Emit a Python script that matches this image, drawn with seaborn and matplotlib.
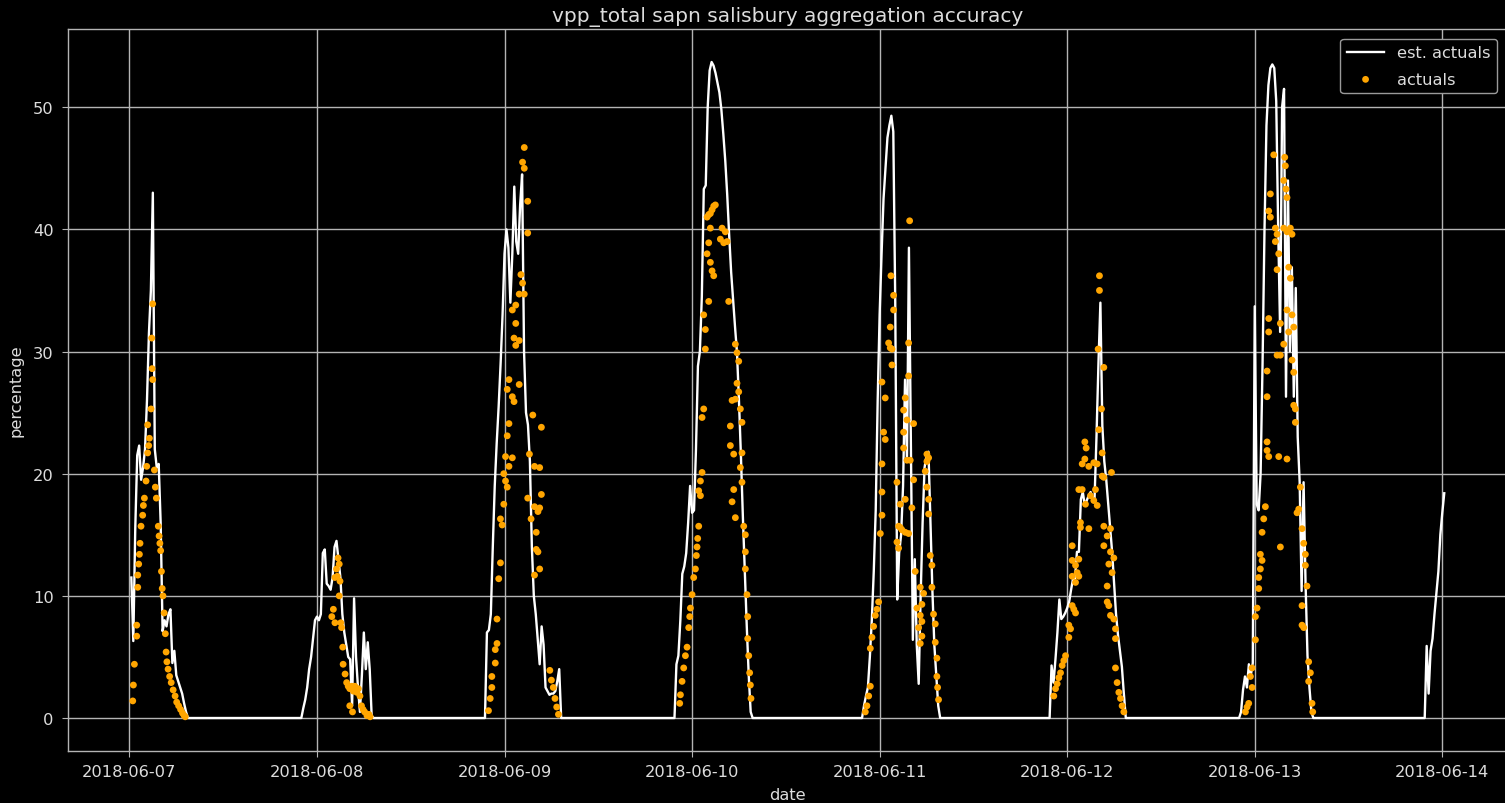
import numpy as np
import pandas as pd
import matplotlib
matplotlib.use("Agg")
import matplotlib.pyplot as plt
import matplotlib.dates as mdates
import seaborn as sns

# ---------------------------------------------------------------------------
# est. actuals: one value every 15 minutes, each day's list starting at the
# given hour offset from that day's midnight
# ---------------------------------------------------------------------------
STEP_H = 0.25

est_0607_start = 0.25
est_0607 = [11.5, 6.3, 15.5, 21.5, 22.3, 19.5, 20.5, 22.0, 26.0, 31.5, 35.0, 43.0,
            22.0, 20.5, 20.8, 16.0, 7.1, 8.0, 7.5, 8.5, 8.9, 4.5, 5.5, 3.5, 3.0,
            2.5, 2.0, 1.2, 0.5, 0.0]

est_0608_start = -2.0
est_0608 = [0.0, 0.8, 1.5, 2.5, 4.0, 5.0, 6.5, 8.0, 8.3, 8.0, 8.5, 13.5, 13.8, 11.0,
            10.8, 10.5, 11.5, 14.0, 14.5, 13.0, 11.5, 8.5, 7.0, 6.0, 5.0, 4.8, 1.0,
            9.8, 5.0, 2.5, 0.5, 3.5, 7.0, 4.0, 6.2, 4.0, 0.2, 0.0]

est_0609_start = -2.5
est_0609 = [0.0, 7.0, 7.2, 8.5, 14.0, 19.0, 22.5, 25.5, 29.0, 33.0, 38.0, 40.0, 38.5,
            34.0, 38.0, 43.5, 39.0, 38.0, 42.0, 44.5, 30.0, 25.0, 24.0, 21.0, 14.0,
            10.0, 8.5, 6.5, 4.4, 7.5, 6.0, 2.5, 2.2, 1.9, 2.0, 2.0, 2.2, 3.0, 4.0, 0.0]

est_0610_start = -2.25
est_0610 = [0.0, 4.4, 5.1, 8.0, 11.8, 12.4, 13.5, 16.0, 19.0, 16.8, 17.0, 22.0, 28.8,
            30.0, 34.5, 43.3, 43.6, 50.0, 53.0, 53.7, 53.4, 52.8, 52.0, 51.2, 49.8,
            47.8, 45.6, 42.8, 39.5, 36.5, 34.2, 32.0, 29.9, 26.0, 21.5, 16.5, 12.0,
            7.5, 3.5, 0.5, 0.0]

est_0611_start = -2.25
est_0611 = [0.0, 1.0, 1.8, 2.5, 5.0, 8.0, 12.0, 17.0, 26.0, 33.0, 38.0, 42.5, 45.0,
            47.5, 48.5, 49.3, 48.0, 34.0, 9.7, 13.5, 15.0, 19.0, 27.7, 21.0, 38.5,
            22.0, 6.4, 13.0, 6.0, 2.8, 10.0, 16.0, 20.5, 21.5, 21.8, 16.0, 10.5, 6.0,
            3.5, 1.0, 0.0]

est_0612_start = -2.25
est_0612 = [0.0, 4.3, 2.9, 4.8, 7.0, 9.7, 8.1, 8.3, 8.6, 9.0, 9.5, 10.5, 11.4, 11.4,
            13.6, 13.6, 17.9, 18.5, 17.4, 17.8, 18.2, 18.5, 18.0, 17.9, 23.0, 29.0,
            34.0, 23.9, 21.0, 19.5, 17.5, 15.5, 13.6, 11.0, 8.5, 6.8, 5.5, 4.2, 2.0,
            0.0]

est_0613_start = -2.0
est_0613 = [0.0, 0.5, 2.3, 3.4, 2.5, 4.4, 3.5, 4.5, 33.7, 17.5, 17.0, 20.0, 29.0, 40.0,
            48.5, 51.8, 53.2, 53.5, 53.2, 50.5, 40.0, 31.6, 50.0, 51.5, 26.3, 44.0,
            30.0, 36.9, 26.3, 35.2, 23.0, 19.3, 10.4, 19.3, 11.1, 5.1, 2.5, 0.5, 0.0]

est_0614_start = -2.5
est_0614 = [0.0, 0.0, 5.9, 2.0, 5.5, 6.5, 8.5, 10.3, 12.0, 15.0, 16.8, 18.4]

# ---------------------------------------------------------------------------
# actuals: (hour offset from the day's midnight, percentage)
# ---------------------------------------------------------------------------
act_0607 = [(0.43, 1.4), (0.51, 2.7), (0.64, 4.4), (0.94, 6.7), (0.94, 7.6), (1.07, 10.7),
            (1.07, 11.7), (1.19, 12.6), (1.28, 13.4), (1.36, 14.3), (1.49, 15.7),
            (1.7, 16.6), (1.79, 17.4), (1.92, 18.0), (2.13, 19.4), (2.22, 20.6),
            (2.34, 21.7), (2.34, 24.0), (2.47, 22.3), (2.56, 22.9), (2.77, 25.3),
            (2.86, 31.1), (2.9, 28.6), (2.98, 27.7), (2.98, 33.9), (3.2, 20.3),
            (3.32, 18.9), (3.45, 18.0), (3.7, 15.7), (3.8, 14.9), (3.9, 14.3),
            (4.0, 13.7), (4.1, 12.0), (4.2, 10.6), (4.3, 10.0), (4.45, 8.6),
            (4.6, 6.9), (4.7, 5.4), (4.8, 4.6), (4.95, 4.0), (5.15, 3.4), (5.35, 2.9),
            (5.6, 2.3), (5.85, 1.8), (6.05, 1.3), (6.3, 1.0), (6.55, 0.7), (6.8, 0.4),
            (7.0, 0.2), (7.15, 0.1)]

act_0608 = [(1.9, 8.3), (2.1, 8.9), (2.3, 7.8), (2.3, 11.5), (2.5, 12.2), (2.6, 11.6),
            (2.7, 13.1), (2.85, 12.6), (2.85, 10.0), (2.95, 11.2), (3.05, 7.8),
            (3.15, 7.4), (3.3, 5.8), (3.35, 4.4), (3.6, 3.6), (3.8, 2.9), (4.0, 2.6),
            (4.2, 2.4), (4.2, 1.0), (4.45, 2.6), (4.55, 0.5), (4.65, 2.2), (4.85, 2.6),
            (5.1, 2.1), (5.3, 2.4), (5.5, 1.8), (5.7, 1.0), (5.9, 0.7), (6.1, 0.5),
            (6.4, 0.2), (6.65, 0.3), (6.8, 0.1)]

act_0609 = [(-2.05, 0.6), (-1.83, 1.6), (-1.62, 2.5), (-1.62, 3.4), (-1.18, 4.5),
            (-1.18, 5.6), (-0.96, 6.1), (-0.96, 8.1), (-0.74, 11.4), (-0.52, 12.7),
            (-0.52, 16.3), (-0.3, 15.8), (-0.09, 17.5), (-0.09, 20.0), (0.13, 19.4),
            (0.13, 21.4), (0.35, 18.9), (0.35, 23.1), (0.35, 26.9), (0.57, 20.6),
            (0.57, 24.1), (0.57, 27.7), (1.0, 21.3), (1.0, 26.3), (1.0, 33.4),
            (1.22, 25.9), (1.22, 31.1), (1.44, 30.5), (1.44, 32.3), (1.44, 33.8),
            (1.88, 27.3), (1.88, 30.9), (1.88, 34.7), (2.1, 36.3), (2.31, 35.6),
            (2.31, 45.5), (2.53, 34.7), (2.53, 45.0), (2.53, 46.7), (2.97, 39.7),
            (2.97, 42.3), (2.97, 18.0), (3.19, 21.6), (3.4, 16.3), (3.62, 24.8),
            (3.84, 20.6), (3.84, 17.3), (3.84, 11.7), (4.06, 15.2), (4.06, 13.8),
            (4.28, 16.9), (4.28, 13.6), (4.5, 20.5), (4.5, 17.2), (4.5, 12.2),
            (4.72, 23.8), (4.72, 18.3), (5.8, 3.9), (6.0, 3.1), (6.24, 2.5),
            (6.46, 1.6), (6.68, 0.9), (6.9, 0.3)]

act_0610 = [(2.98, 42.0), (2.77, 41.9), (2.34, 41.3), (2.13, 41.2), (1.92, 41.0),
            (2.56, 41.6), (3.84, 40.1), (4.26, 39.8), (4.48, 39.0), (3.62, 39.2),
            (4.05, 38.9), (2.34, 40.1), (2.13, 38.9), (1.92, 38.0), (2.34, 37.3),
            (2.77, 36.2), (2.56, 36.6), (2.13, 34.1), (4.69, 34.1), (1.49, 33.0),
            (1.7, 31.8), (1.7, 30.2), (5.54, 30.6), (5.75, 29.9), (5.97, 29.2),
            (5.75, 27.4), (5.97, 26.7), (5.54, 26.1), (5.12, 26.0), (6.18, 25.3),
            (6.39, 24.2), (1.49, 25.3), (1.28, 24.6), (4.9, 23.9), (6.39, 21.7),
            (4.9, 22.3), (5.33, 21.6), (6.18, 20.5), (6.39, 19.3), (1.28, 20.1),
            (1.07, 19.4), (0.85, 18.6), (1.07, 18.2), (5.33, 18.7), (5.12, 17.7),
            (5.54, 16.4), (0.85, 15.7), (0.72, 14.7), (0.64, 14.0), (0.55, 13.3),
            (0.43, 12.2), (0.21, 11.5), (0.0, 10.1), (-0.21, 9.0), (-0.3, 8.3),
            (-0.43, 7.4), (-0.64, 5.8), (-0.85, 5.1), (-1.07, 4.1), (-1.28, 3.0),
            (-1.49, 1.9), (-1.58, 1.2), (6.61, 15.7), (6.82, 15.0), (6.82, 13.6),
            (6.82, 12.2), (7.03, 10.1), (7.12, 8.3), (7.12, 6.5), (7.25, 5.1),
            (7.37, 3.7), (7.46, 2.7), (7.54, 1.6)]

act_0611 = [(3.84, 40.7), (1.45, 36.2), (1.79, 34.6), (1.79, 33.4), (1.36, 32.0),
            (1.15, 30.7), (1.36, 30.3), (1.58, 30.2), (3.71, 30.7), (1.58, 28.9),
            (3.71, 28.0), (0.3, 27.5), (0.72, 26.2), (3.28, 26.2), (3.07, 25.2),
            (3.5, 24.4), (4.35, 24.1), (0.51, 23.4), (0.72, 22.8), (3.07, 23.4),
            (3.07, 22.1), (3.5, 21.1), (3.92, 21.1), (0.3, 20.8), (6.05, 21.6),
            (6.27, 21.3), (5.84, 20.2), (6.05, 21.0), (2.22, 19.3), (4.35, 19.5),
            (6.05, 18.9), (0.3, 18.5), (6.27, 17.9), (2.64, 17.5), (3.28, 17.9),
            (4.13, 17.2), (0.3, 16.6), (6.27, 16.7), (2.43, 15.7), (2.64, 15.6),
            (2.86, 15.4), (3.28, 15.2), (3.71, 15.1), (0.09, 15.1), (2.22, 14.4),
            (2.43, 13.9), (6.48, 13.3), (6.69, 12.5), (4.56, 12.0), (5.2, 10.7),
            (5.63, 10.2), (5.41, 9.3), (6.69, 10.7), (-0.13, 9.5), (-0.34, 8.9),
            (-0.55, 8.4), (-0.77, 7.5), (-0.98, 6.6), (-1.19, 5.7), (4.77, 9.0),
            (5.2, 8.4), (5.41, 7.9), (4.99, 7.4), (6.9, 8.5), (7.12, 7.7), (5.41, 6.7),
            (5.2, 6.1), (7.12, 6.2), (7.33, 4.9), (-1.19, 2.6), (-1.4, 1.8),
            (-1.62, 1.0), (-1.83, 0.5), (7.33, 3.4), (7.42, 2.5), (7.54, 1.5)]

act_0612 = [(4.13, 36.2), (4.13, 35.0), (3.96, 30.2), (4.69, 28.7), (4.39, 25.3),
            (4.05, 23.6), (4.48, 21.7), (5.67, 20.1), (2.26, 22.6), (2.43, 22.1),
            (2.26, 21.2), (1.92, 20.8), (2.77, 20.6), (3.41, 20.9), (3.84, 20.8),
            (4.48, 19.8), (4.69, 19.7), (1.92, 18.7), (1.49, 18.7), (3.62, 18.7),
            (2.98, 18.2), (3.41, 17.8), (3.84, 17.4), (2.34, 17.5), (1.7, 16.0),
            (1.7, 15.6), (2.77, 15.5), (4.69, 15.7), (5.54, 15.5), (5.12, 14.9),
            (0.64, 14.1), (4.69, 14.1), (5.54, 13.6), (5.97, 13.1), (0.64, 12.9),
            (1.49, 13.0), (1.07, 12.5), (1.28, 11.9), (1.49, 11.6), (0.64, 11.6),
            (1.07, 11.1), (5.33, 12.6), (5.75, 11.9), (5.12, 10.8), (5.12, 9.5),
            (5.33, 9.2), (0.64, 9.2), (0.85, 8.9), (1.07, 8.6), (5.54, 8.4), (0.21, 7.6),
            (0.43, 7.3), (0.21, 6.6), (5.97, 8.1), (6.18, 7.3), (6.18, 6.5),
            (-0.21, 5.1), (-0.43, 4.7), (-0.64, 4.3), (-0.85, 3.7), (-1.07, 3.3),
            (-1.28, 2.8), (-1.49, 2.4), (-1.71, 1.8), (6.18, 4.1), (6.39, 2.9),
            (6.61, 2.1), (6.82, 1.6), (7.03, 1.0), (7.25, 0.5)]

act_0613 = [(2.43, 46.1), (3.84, 45.9), (3.92, 45.2), (3.71, 44.0), (2.0, 42.9),
            (4.0, 43.3), (4.13, 42.6), (1.79, 41.5), (2.0, 41.0), (2.64, 40.1),
            (2.86, 39.6), (2.64, 39.0), (3.71, 40.1), (4.13, 39.8), (4.56, 40.1),
            (4.77, 39.6), (3.07, 38.0), (2.86, 36.7), (4.35, 36.9), (4.56, 36.0),
            (4.13, 33.4), (4.77, 33.0), (4.99, 32.0), (1.79, 32.7), (1.79, 31.6),
            (3.28, 32.3), (4.35, 31.6), (3.71, 30.6), (3.28, 29.7), (2.86, 29.7),
            (4.77, 29.3), (4.99, 28.3), (1.58, 28.4), (1.58, 26.3), (4.99, 25.6),
            (5.2, 25.3), (5.2, 24.2), (1.58, 22.6), (1.58, 21.9), (1.79, 21.4),
            (3.07, 21.4), (4.13, 21.2), (5.84, 18.9), (5.63, 17.1), (5.41, 16.8),
            (1.36, 17.3), (1.15, 16.3), (0.94, 15.2), (3.28, 14.0), (6.05, 15.5),
            (6.27, 14.3), (6.48, 13.4), (6.48, 12.5), (6.69, 10.8), (6.05, 9.2),
            (0.72, 13.4), (0.94, 12.9), (0.72, 12.2), (0.51, 11.5), (0.51, 10.6),
            (0.3, 9.0), (0.09, 8.3), (0.09, 6.4), (6.05, 7.6), (6.27, 7.4), (6.9, 4.6),
            (7.12, 3.7), (6.9, 3.0), (-0.34, 4.1), (-0.55, 3.4), (-0.34, 2.5),
            (-0.77, 1.2), (-0.98, 0.9), (-1.19, 0.5), (7.33, 1.2), (7.42, 0.5)]

est_series = [
    ("2018-06-07", est_0607_start, est_0607),
    ("2018-06-08", est_0608_start, est_0608),
    ("2018-06-09", est_0609_start, est_0609),
    ("2018-06-10", est_0610_start, est_0610),
    ("2018-06-11", est_0611_start, est_0611),
    ("2018-06-12", est_0612_start, est_0612),
    ("2018-06-13", est_0613_start, est_0613),
    ("2018-06-14", est_0614_start, est_0614),
]
act_series = [
    ("2018-06-07", act_0607), ("2018-06-08", act_0608), ("2018-06-09", act_0609),
    ("2018-06-10", act_0610), ("2018-06-11", act_0611), ("2018-06-12", act_0612),
    ("2018-06-13", act_0613),
]

# ---------------------------------------------------------------------------
# tidy frames
# ---------------------------------------------------------------------------
est_frames = []
for day, start, vals in est_series:
    hours = start + STEP_H * np.arange(len(vals))
    est_frames.append(pd.DataFrame({
        "date": pd.Timestamp(day) + pd.to_timedelta(hours, unit="h"),
        "percentage": vals,
    }))
est = pd.concat(est_frames, ignore_index=True)

act_frames = []
for day, pts in act_series:
    hrs = np.array([p[0] for p in pts])
    act_frames.append(pd.DataFrame({
        "date": pd.Timestamp(day) + pd.to_timedelta(hrs, unit="h"),
        "percentage": [p[1] for p in pts],
    }))
act = pd.concat(act_frames, ignore_index=True)

# ---------------------------------------------------------------------------
# figure
# ---------------------------------------------------------------------------
plt.style.use("dark_background")
TXT = "#dcdcdc"
GRID = "#b4b4b4"
plt.rcParams.update({
    "font.family": "DejaVu Sans",
    "font.size": 11.7,
    "text.color": TXT,
    "axes.labelcolor": TXT,
    "xtick.color": GRID,
    "ytick.color": GRID,
    "xtick.labelcolor": TXT,
    "ytick.labelcolor": TXT,
    "xtick.major.pad": 5.5,
    "ytick.major.pad": 5.5,
    "xtick.major.size": 4.0,
    "ytick.major.size": 4.5,
})

W, H = 1505, 804
fig = plt.figure(figsize=(W / 100, H / 100), dpi=100, facecolor="black")
ax = fig.add_axes([67.5 / W, (H - 752) / H, (1507 - 67.5) / W, (752 - 30) / H])
ax.set_facecolor("black")

sns.lineplot(data=est, x="date", y="percentage", ax=ax, color="white",
             linewidth=1.7, estimator=None, sort=False, label="est. actuals")
sns.scatterplot(data=act, x="date", y="percentage", ax=ax, color="orange",
                s=24, edgecolor="none", linewidth=0, zorder=3, label="actuals")

day0 = pd.Timestamp("2018-06-07")
ax.set_xlim(day0 - pd.Timedelta(days=0.33), day0 + pd.Timedelta(days=7.345))
ax.set_ylim(-2.7, 56.4)
ax.set_yticks([0, 10, 20, 30, 40, 50])
ax.xaxis.set_major_locator(mdates.DayLocator())
ax.xaxis.set_major_formatter(mdates.DateFormatter("%Y-%m-%d"))

ax.grid(True, color=GRID, linewidth=1.0)
ax.set_axisbelow(True)
for sp in ax.spines.values():
    sp.set_color(GRID)
    sp.set_linewidth(1.0)

ax.set_title("vpp_total sapn salisbury aggregation accuracy", fontsize=14.5, color=TXT)
ax.set_xlabel("date", color=TXT, labelpad=5.5)
ax.set_ylabel("percentage", color=TXT, labelpad=6.5)

leg = ax.legend(loc="upper right", facecolor="black", edgecolor="#9a9a9a",
                framealpha=1.0, fontsize=11.7, labelspacing=0.7, handlelength=2.3,
                borderaxespad=0.6)
for t in leg.get_texts():
    t.set_color(TXT)

fig.savefig("out.png", dpi=100, facecolor="black")
